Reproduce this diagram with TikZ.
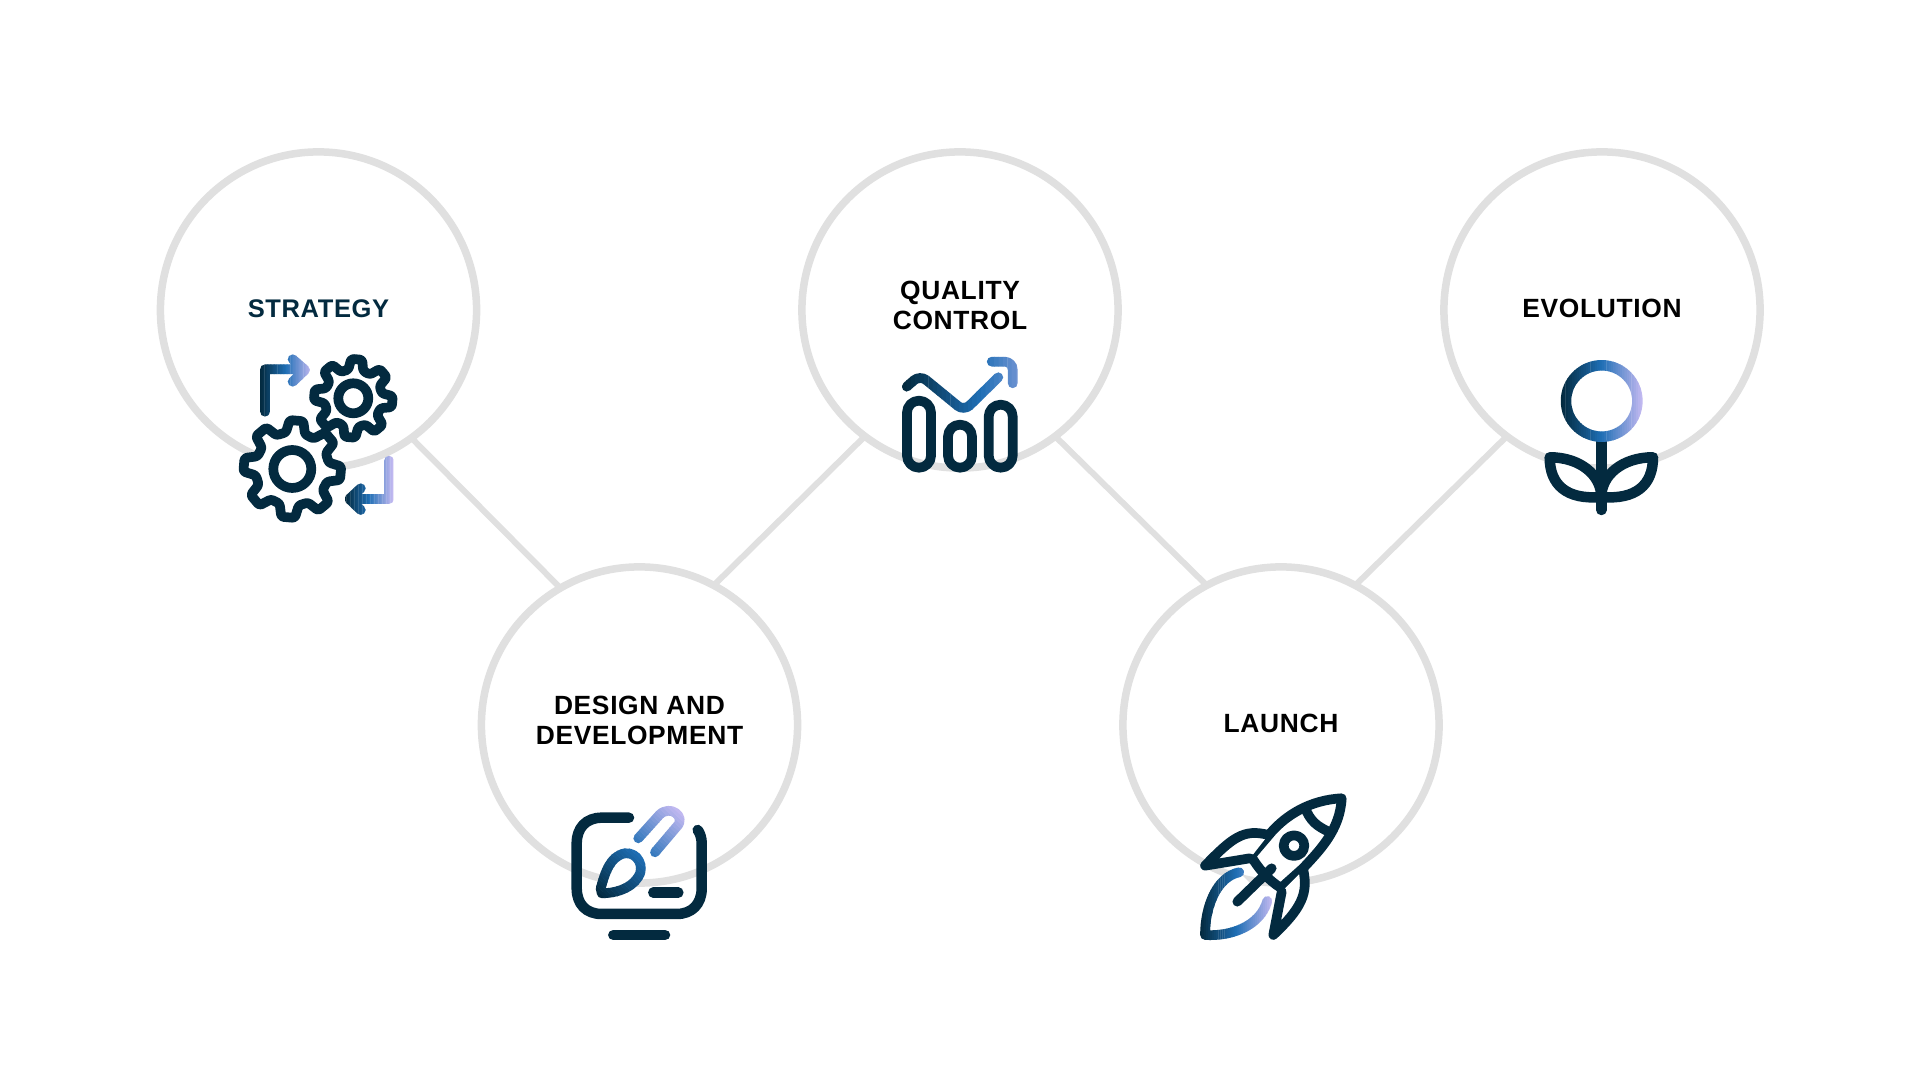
\documentclass[tikz,border=0pt]{standalone}
\usepackage{fontspec}
\setmainfont{Liberation Sans}
\definecolor{icondark}{HTML}{032A3F}
\definecolor{iconblue}{HTML}{1F6FB5}
\definecolor{iconlav}{HTML}{C0B8F0}
\definecolor{ringgrey}{HTML}{E0E0E0}
\newfontfamily\stagefont[LetterSpace=2.5]{Liberation Sans}
% horizontal colour run along a stroke: pivot x, pivot y, run length, angle, path
\newcommand{\gradstroke}[5]{%
  \foreach \i in {0,...,35}{
    \pgfmathsetmacro{\bandpos}{\i/35*100}
    \pgfmathsetmacro{\bandlo}{#1+#3*\i/36}
    \pgfmathsetmacro{\bandhi}{#1+#3*(\i+1)/36+0.4}
    \ifdim \bandpos pt<50pt
      \pgfmathsetmacro{\bandmix}{\bandpos*2}
      \colorlet{bandcol}{iconblue!\bandmix!icondark}
    \else
      \pgfmathsetmacro{\bandmix}{(\bandpos-50)*2}
      \colorlet{bandcol}{iconlav!\bandmix!iconblue}
    \fi
    \begin{scope}
      \clip[rotate around={#4:(#1,#2)}] (\bandlo,#2-2000) rectangle (\bandhi,#2+2000);
      \draw[iconline,draw=bandcol] #5;
    \end{scope}
  }}
% gear: centre x, centre y, root radius, tip radius, hub radius
\newcommand{\gearicon}[5]{%
  \begin{scope}[shift={(#1,#2)}]
    \draw[iconline,fill=white,rounded corners=0.025cm] (-107.5:#3)
      \foreach \i [evaluate=\i as \a using -85+45*\i] in {0,...,7}{
        -- (\a-15:#3) -- (\a-8:#4) -- (\a+8:#4) -- (\a+15:#3)} -- cycle;
    \draw[iconline] (0,0) circle[radius=#5];
  \end{scope}}
\begin{document}
\begin{tikzpicture}[x=0.01cm,y=-0.01cm,
  stage/.style={circle,draw=ringgrey,line width=0.075cm,minimum size=3.16cm,outer sep=0pt,
    inner sep=0pt,align=center,text=black,text depth=0.024cm,font=\stagefont\bfseries\fontsize{7.5}{8.6}\selectfont},
  twoline/.style={text depth=0.09cm},
  link/.style={draw=ringgrey,line width=0.06cm},
  iconline/.style={draw=icondark,line width=0.097cm,line cap=round,line join=round}]
  \useasboundingbox (0,0) rectangle (1920,1080);
  \fill[white] (0,0) rectangle (1920,1080);
  % stages
  \node[stage,text=icondark] (strategy) at (318.5,310) {\fontsize{7.25}{8.6}\selectfont STRATEGY};
  \node[stage,twoline] (design) at (639.5,725) {DESIGN AND\\DEVELOPMENT};
  \node[stage,twoline] (quality) at (960,310) {QUALITY\\CONTROL};
  \node[stage] (launch) at (1281,725) {LAUNCH};
  \node[stage] (evolution) at (1602,310) {EVOLUTION};
  \draw[link] (strategy.-54) -- (design.120);
  \draw[link] (design.62) -- (quality.233);
  \draw[link] (quality.-53) -- (launch.118.5);
  \draw[link] (launch.62) -- (evolution.233);
  % strategy icon
  \gearicon{353.3}{398.3}{29}{39.5}{15}
  \gearicon{292.3}{469}{37}{49}{19}
  \gradstroke{260}{370}{52}{0}{(265,411.7) -- (265,369.3) -- (303,369.3) (292.7,359.3) -- (305,370) -- (292.7,381.7)}
  \gradstroke{345}{499}{48}{0}{(389,460.7) -- (389,499) -- (352,499) (360.7,488.3) -- (349.3,499) -- (360.7,510)}
  % design icon
  \draw[iconline,line width=0.105cm] (629,817.7) -- (601.7,817.7) .. controls (586,817.7) and (576.7,828) .. (576.7,843.3) -- (576.7,888.3) .. controls (576.7,904) and (586,914) .. (601.7,914) -- (676.7,914) .. controls (692,914) and (701.7,904) .. (701.7,888.3) -- (701.7,843.3) .. controls (701.7,838) and (700,833) .. (697.7,830);
  \draw[iconline,line width=0.105cm] (653.3,892.7) -- (678.3,892.7);
  \draw[iconline,line width=0.105cm] (613.3,935) -- (665,935);
  \fill[white] (600.7,888.3) .. controls (605,873) and (610,856) .. (625,853.3) .. controls (638,852) and (645,867) .. (638.3,877) .. controls (630,890) and (613,893.3) .. (601.7,893.3) -- cycle;
  \gradstroke{598.3}{896.7}{119}{47}{(600.7,888.3) .. controls (605,873) and (610,856) .. (625,853.3) .. controls (638,852) and (645,867) .. (638.3,877) .. controls (630,890) and (613,893.3) .. (601.7,893.3) -- cycle}
  \gradstroke{598.3}{896.7}{119}{47}{(638.3,838.3) -- (659.3,815) .. controls (670,804) and (686.7,816.7) .. (676.7,826.7) -- (655,852.3)}
  % quality icon
  \draw[iconline,rounded corners=0.119cm] (907,400.7) rectangle (931,467.7);
  \draw[iconline,rounded corners=0.119cm] (948,424.7) rectangle (972,467.7);
  \draw[iconline,rounded corners=0.119cm] (988.7,404.7) rectangle (1012.7,467.7);
  \gradstroke{902}{400}{158}{0}{[rounded corners=0.08cm] (906.7,386.7) -- (920,375) -- (964,411) -- (998.3,377.3)}
  \gradstroke{902}{400}{158}{0}{[rounded corners=0.08cm] (991.7,361.7) -- (1012.7,361.7) -- (1012.7,383.3)}
  % launch icon
  \fill[white] (1239.3,872.3) .. controls (1216.7,876.7) and (1205,906.7) .. (1205,935) .. controls (1230,936.7) and (1260,926.7) .. (1267.3,901);
  \gradstroke{1200}{900}{73}{0}{(1239.3,872.3) .. controls (1216.7,876.7) and (1205,906.7) .. (1205,935) .. controls (1230,936.7) and (1260,926.7) .. (1267.3,901)}
  \draw[iconline,fill=white] (1341.7,798.3) .. controls (1310,800) and (1286.7,815) .. (1271.7,831.7) -- (1251,856) .. controls (1258,868) and (1268,880) .. (1281,888) -- (1303,868.3) .. controls (1320,850) and (1340,830) .. (1341.7,798.3) -- cycle;
  \draw[iconline] (1306.7,811.7) .. controls (1313,825) and (1322,828) .. (1328.3,831.7);
  \draw[iconline] (1294,845.7) circle[radius=10.3];
  \draw[iconline,fill=white] (1268.3,835) .. controls (1243.3,828.3) and (1231.7,838.3) .. (1205,865.7) -- (1250,858.3);
  \draw[iconline,fill=white] (1303.3,870) .. controls (1308.3,893.3) and (1301.7,908.3) .. (1273.3,935) -- (1281.7,891.7);
  \draw[iconline] (1237.3,901.7) -- (1271.7,868.3);
  % evolution icon
  \draw[iconline,line width=0.105cm,fill=white] (1549.7,457.3) .. controls (1580,457.3) and (1601.3,475) .. (1601.3,497) .. controls (1566.7,500) and (1549.7,485) .. (1549.7,457.3) -- cycle;
  \draw[iconline,line width=0.105cm,fill=white] (1653,457.3) .. controls (1622.7,457.3) and (1601.3,475) .. (1601.3,497) .. controls (1636,500) and (1653,485) .. (1653,457.3) -- cycle;
  \draw[iconline,line width=0.105cm] (1601.3,442) -- (1601.3,510);
  \gradstroke{1560.7}{401}{82}{0}{[line width=0.105cm] (1601.7,401) circle[radius=35.7]}
\end{tikzpicture}
\end{document}
